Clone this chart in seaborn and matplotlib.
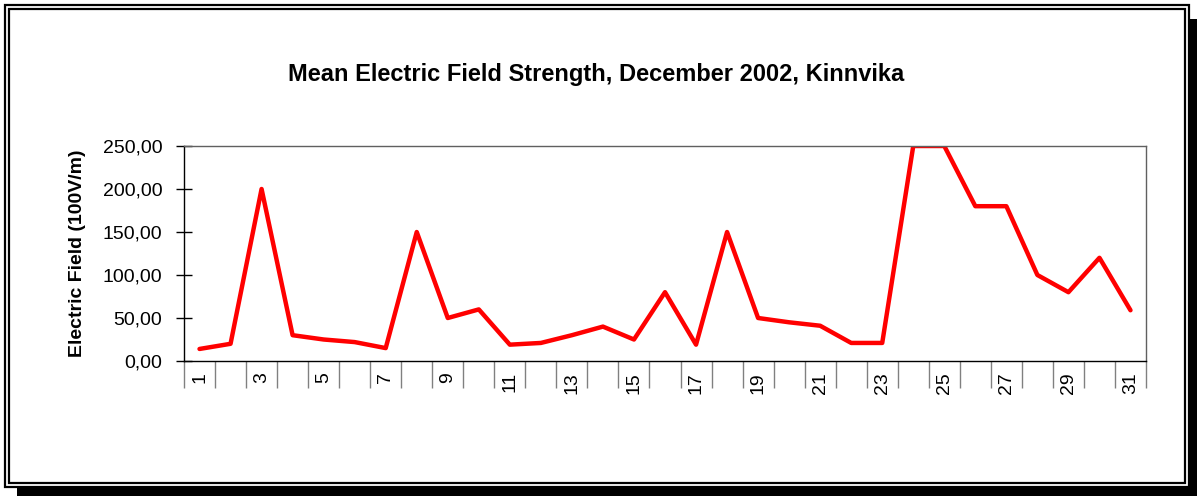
import numpy as np
import pandas as pd
import matplotlib
matplotlib.use("Agg")
import matplotlib.pyplot as plt
from matplotlib.patches import Rectangle
from matplotlib.ticker import FuncFormatter, FixedLocator
import seaborn as sns

# Mean electric field strength per day, December 2002
days = list(range(1, 32))
field = [14, 20, 200, 30, 25, 22, 15, 150, 50, 60,
         19, 21, 30, 40, 25, 80, 19, 150, 50, 45,
         41, 21, 21, 250, 250, 180, 180, 100, 80, 120,
         59]
tick_days = list(range(1, 32, 2))
y_ticks = [0, 50, 100, 150, 200, 250]

title = "Mean Electric Field Strength, December 2002, Kinnvika"
y_label = "Electric Field (100V/m)"

sns.set_style("white")
plt.rcParams["font.family"] = ["Liberation Sans", "DejaVu Sans"]
plt.rcParams["text.color"] = "black"
plt.rcParams["xtick.color"] = "black"
plt.rcParams["ytick.color"] = "black"
plt.rcParams["axes.labelcolor"] = "black"

df = pd.DataFrame({"day": days, "field": field})

W, H = 1197, 496
fig = plt.figure(figsize=(W / 100, H / 100), dpi=100)
ax = fig.add_axes([184 / W, 1 - 361 / H, (1146 - 184) / W, (361 - 146) / H])

sns.lineplot(data=df, x="day", y="field", color="#ff0000", linewidth=3.2, ax=ax)

ax.set_xlim(0.5, 31.5)
ax.set_ylim(0, 250)

# y axis
ax.set_yticks(y_ticks)
ax.yaxis.set_major_formatter(FuncFormatter(lambda v, p: f"{v:.2f}".replace(".", ",")))
ax.tick_params(axis="y", direction="inout", length=11.5, width=1, color="black",
               labelsize=14, pad=10, left=True, labelcolor="black")
ax.set_ylabel(y_label, fontsize=14, fontweight="bold", labelpad=12, color="black")

# x axis: category separators as minor ticks, labels on odd days
ax.xaxis.set_minor_locator(FixedLocator(np.arange(0.5, 32, 1)))
ax.set_xticks(tick_days)
ax.set_xticklabels([str(d) for d in tick_days], rotation=90, va="top", ha="center")
ax.tick_params(axis="x", which="major", length=0, labelsize=14, pad=8,
               labelcolor="black")
ax.tick_params(axis="x", which="minor", length=19.5, width=1, color="#808080",
               direction="out", bottom=True)
ax.set_xlabel("")

for side in ["top", "right"]:
    ax.spines[side].set_color("#606060")
    ax.spines[side].set_linewidth(1)
for side in ["left", "bottom"]:
    ax.spines[side].set_color("black")
    ax.spines[side].set_linewidth(1)
ax.grid(False)

fig.text(596 / W, 1 - 74 / H, title, ha="center", va="center",
         fontsize=17, fontweight="bold", color="black")

# chart border (double frame with shadow)
px = lambda x, y: (x / W, 1 - y / H)
def frame(x0, y0, x1, y1, lw, fill=False):
    fig.patches.append(Rectangle(px(x0, y1), (x1 - x0) / W, (y1 - y0) / H,
                                 transform=fig.transFigure, fill=fill,
                                 facecolor="black", edgecolor="black",
                                 linewidth=lw))
frame(5, 5, 1189, 487, 1.6)
frame(9, 9, 1185, 483, 1.6)
frame(1190, 19, 1197, 496, 0, fill=True)
frame(17, 488, 1197, 496, 0, fill=True)

fig.savefig("out.png", dpi=100)
